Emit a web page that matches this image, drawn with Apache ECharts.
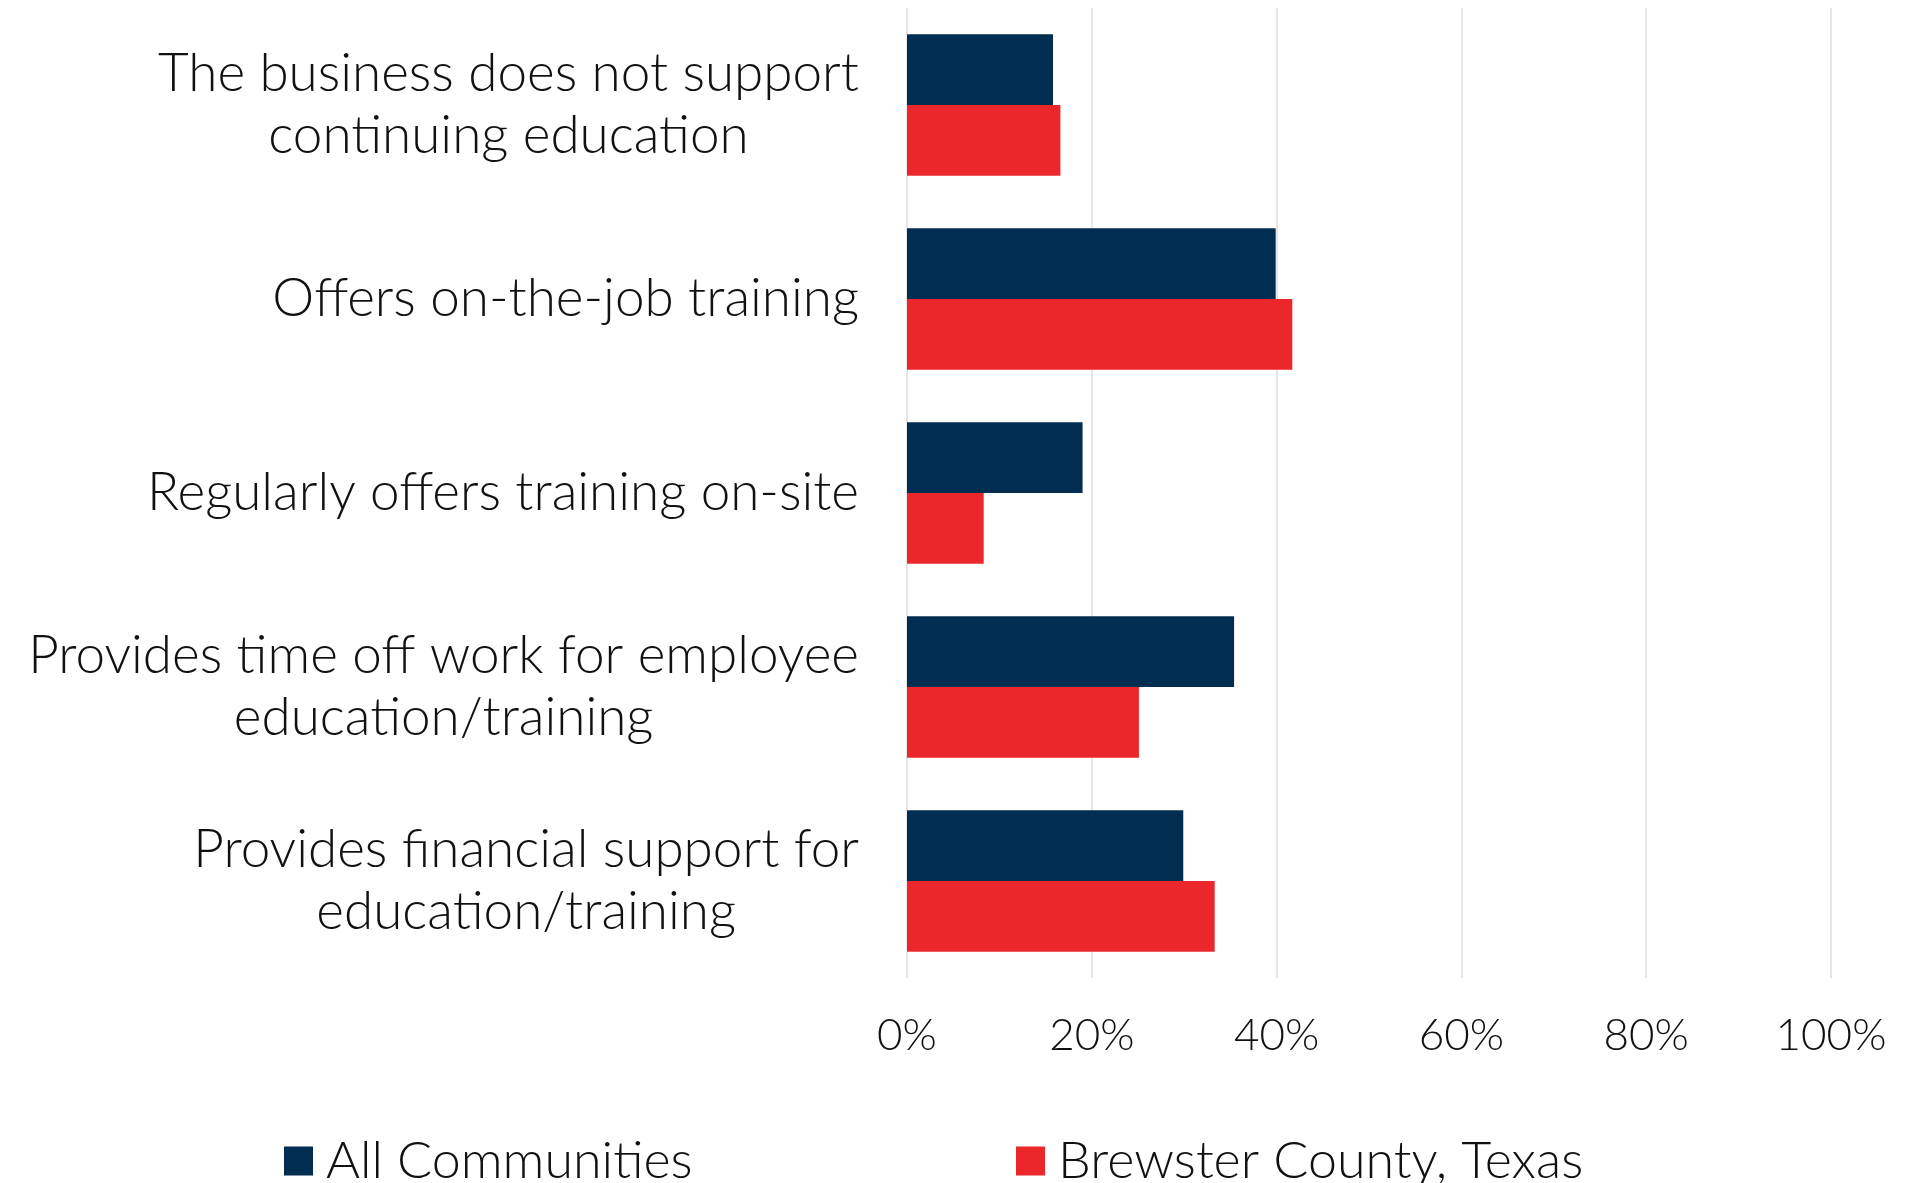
<!DOCTYPE html>
<html>
<head>
<meta charset="utf-8">
<script src="https://cdn.jsdelivr.net/npm/echarts@6/dist/echarts.min.js"></script>
<style>
  html, body { margin: 0; padding: 0; background: #fff; }
  #main { width: 1918px; height: 1183px; }
</style>
</head>
<body>
<div id="main"></div>
<script>
// data (percent)
var categories = [
  'The business does not support\ncontinuing education',
  'Offers on-the-job training',
  'Regularly offers training on-site',
  'Provides time off work for employee\neducation/training',
  'Provides financial support for\neducation/training'
];
var allCommunities = [15.8, 39.9, 19.0, 35.4, 29.9];
var brewster = [16.6, 41.7, 8.3, 25.1, 33.3];
var seriesNames = ['All Communities', 'Brewster County, Texas'];
var xTicks = [0, 20, 40, 60, 80, 100];

var myChart = echarts.init(document.getElementById('main'));

var font = 'Lato';
var textColor = '#111';

var option = {
  backgroundColor: '#fff',
  animation: false,
  legend: [
    {
      data: [seriesNames[0]],
      left: 279, top: 1130,
      icon: 'rect', itemWidth: 29, itemHeight: 29, itemGap: 14,
      textStyle: { fontFamily: font, fontWeight: 300, fontSize: 52, color: textColor, padding: [0, 0, 0, 8] }
    },
    {
      data: [seriesNames[1]],
      left: 1011, top: 1130,
      icon: 'rect', itemWidth: 29, itemHeight: 29, itemGap: 14,
      textStyle: { fontFamily: font, fontWeight: 300, fontSize: 52, color: textColor, padding: [0, 0, 0, 8] }
    }
  ],
  grid: { left: 907, right: 87, top: 8, bottom: 205, containLabel: false },
  xAxis: {
    type: 'value',
    min: 0, max: 100, interval: 20,
    axisLine: { show: false },
    axisTick: { show: false },
    splitLine: { lineStyle: { color: '#dedede', width: 1.5 } },
    axisLabel: {
      margin: 36,
      fontFamily: font, fontWeight: 300, fontSize: 44, color: textColor,
      formatter: function (v) { return xTicks.indexOf(v) >= 0 ? v + '%' : ''; }
    }
  },
  yAxis: {
    type: 'category',
    inverse: true,
    data: categories,
    axisLine: { show: false },
    axisTick: { show: false },
    axisLabel: {
      margin: 48,
      formatter: function (v) {
        return v.split('\n').map(function (s) { return '{c|' + s + '}'; }).join('\n');
      },
      rich: {
        c: {
          align: 'center',
          fontFamily: font, fontWeight: 300, fontSize: 53, lineHeight: 62, color: textColor
        }
      }
    }
  },
  series: [
    {
      name: seriesNames[0], type: 'bar', data: allCommunities,
      itemStyle: { color: '#012D51' },
      barGap: '0%', barCategoryGap: '27%'
    },
    {
      name: seriesNames[1], type: 'bar', data: brewster,
      itemStyle: { color: '#EC272B' },
      barGap: '0%', barCategoryGap: '27%'
    }
  ]
};

myChart.setOption(option);
</script>
</body>
</html>
